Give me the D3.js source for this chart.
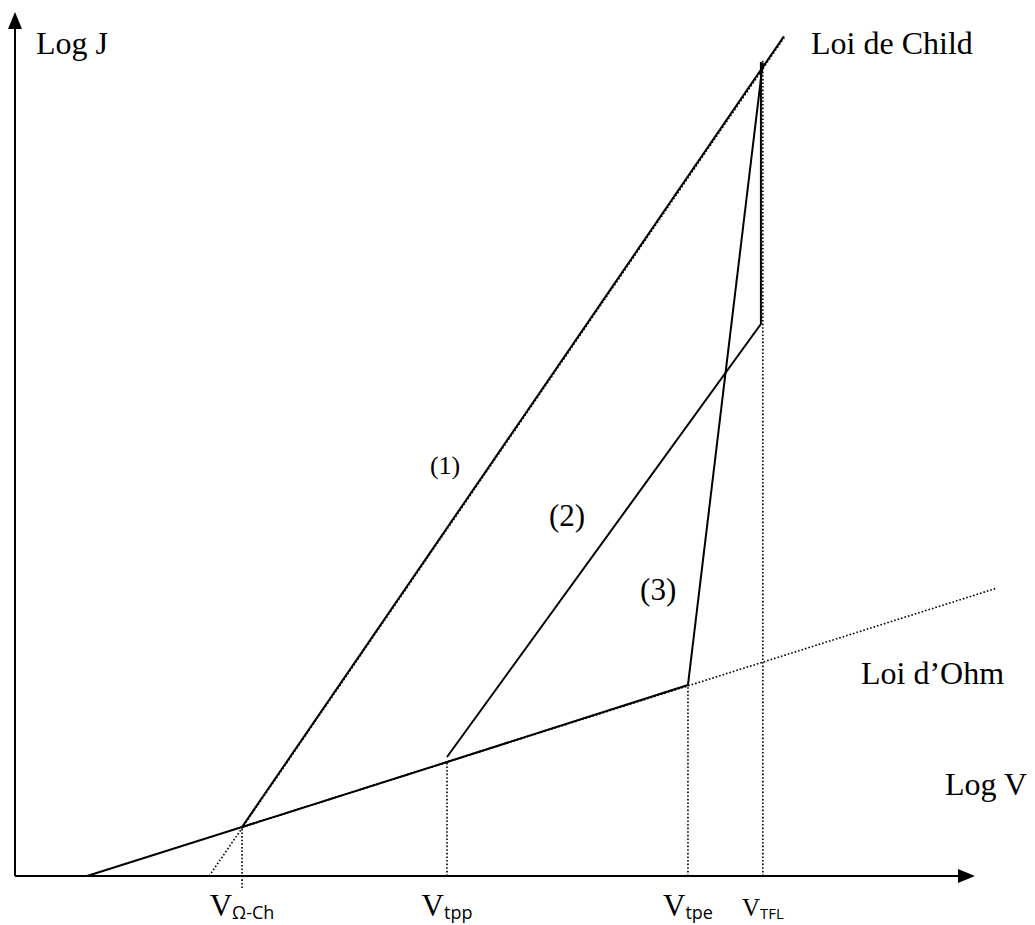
<!DOCTYPE html>
<html>
<head>
<meta charset="utf-8">
<script src="https://cdn.jsdelivr.net/npm/d3@7"></script>
<style>
  html, body { margin: 0; padding: 0; background: #fff; }
  svg { display: block; }
  .serif { font-family: "Liberation Serif", "Times New Roman", serif; fill: #000; }
  .sub { font-family: "Open Sans", "DejaVu Sans", sans-serif; fill: #000; }
</style>
</head>
<body>
<div id="chart"></div>
<script>
// abstract log-log units (0..10 on both axes)
const ohmSolid = [[0.75, 0], [2.365, 0.567], [4.5, 1.319], [7.01, 2.211]];
const ohmLine = [[2.365, 0.567], [10.23, 3.333]];           // dotted "Loi d'Ohm"
const childSolid = [[2.365, 0.567], [8.01, 9.72]];          // (1) "Loi de Child"
const childDotted = [[2.01, 0], [8.01, 9.72]];
const curve2 = [[4.5, 1.377], [7.77, 6.389], [7.77, 9.42]];
const curve3 = [[7.01, 2.211], [7.79, 9.41]];

// voltage markers on the x axis: name, subscript, x, top of dotted guide
const vNames = ["V", "V", "V", "V"];
const vSubs = ["Ω-Ch", "tpp", "tpe", "TFL"];
const vX = [2.365, 4.5, 7.01, 7.79];
const vTop = [0.567, 1.319, 2.211, 9.45];
const vBottom = [-0.14, 0, 0, 0];

const curveLabels = ["(1)", "(2)", "(3)"];
const curveLabelPos = [[4.48, 4.65], [5.75, 4.05], [6.7, 3.2]];

const margin = { left: 15, right: 60, top: 12, bottom: 49 };
const W = 1035, H = 925;

const x = d3.scaleLinear().domain([0, 10]).range([margin.left, W - margin.right]);
const y = d3.scaleLinear().domain([0, 10]).range([H - margin.bottom, margin.top]);

const svg = d3.select("#chart").append("svg")
    .attr("width", W).attr("height", H);

const line = d3.line().x(d => x(d[0])).y(d => y(d[1]));

// axes with arrow heads
const x0 = x(0), y0 = y(0), xEnd = x(10), yEnd = y(10);
svg.append("line").attr("x1", x0).attr("y1", y0).attr("x2", xEnd - 10).attr("y2", y0)
    .attr("stroke", "#000").attr("stroke-width", 2);
svg.append("path").attr("d", `M${xEnd},${y0} L${xEnd - 17},${y0 - 7} L${xEnd - 17},${y0 + 7} Z`).attr("fill", "#000");
svg.append("line").attr("x1", x0).attr("y1", y0).attr("x2", x0).attr("y2", yEnd + 10)
    .attr("stroke", "#000").attr("stroke-width", 2);
svg.append("path").attr("d", `M${x0},${yEnd} L${x0 - 7},${yEnd + 17} L${x0 + 7},${yEnd + 17} Z`).attr("fill", "#000");

const dotted = { stroke: "#000", "stroke-width": 1.6, "stroke-dasharray": "1.6 2" };
function drawPath(pts, style, dx = 0) {
    const p = svg.append("path").attr("d", line(pts)).attr("fill", "none");
    if (dx) p.attr("transform", `translate(${dx},0)`);
    Object.entries(style).forEach(([k, v]) => p.attr(k, v));
}

// guides
vX.forEach((v, i) => drawPath([[v, vBottom[i]], [v, vTop[i]]], dotted));
drawPath(ohmLine, dotted);
drawPath(childDotted, dotted, 1.2);
drawPath([ohmSolid[1], ohmSolid[3]], dotted, 0.8);

// solid curves
const solid = { stroke: "#000", "stroke-width": 2, "stroke-linejoin": "miter" };
drawPath(ohmSolid, solid);
drawPath(childSolid, solid);
drawPath(curve2, solid);
drawPath(curve3, solid);

// axis titles and law labels
svg.append("text").attr("class", "serif").attr("x", 36).attr("y", 54)
    .attr("font-size", 32).text("Log J");
svg.append("text").attr("class", "serif").attr("x", 945).attr("y", 795)
    .attr("font-size", 32).text("Log V");
svg.append("text").attr("class", "serif").attr("x", 811).attr("y", 54)
    .attr("font-size", 32).text("Loi de Child");
svg.append("text").attr("class", "serif").attr("x", 861).attr("y", 684)
    .attr("font-size", 32).text("Loi d\u2019Ohm");

curveLabels.forEach((t, i) => {
    svg.append("text").attr("class", "serif")
        .attr("x", x(curveLabelPos[i][0])).attr("y", y(curveLabelPos[i][1]))
        .attr("text-anchor", "middle")
        .attr("font-size", i === 0 ? 26 : 31).text(t);
});

// voltage labels under the axis
vX.forEach((v, i) => {
    const small = i === 3;
    const t = svg.append("text").attr("x", x(v)).attr("y", 916).attr("text-anchor", "middle");
    t.append("tspan").attr("class", "serif").attr("font-size", small ? 25 : 31).text(vNames[i]);
    t.append("tspan").attr("class", "sub").attr("font-size", small ? 15 : 18).attr("dy", 3).text(vSubs[i]);
});
</script>
</body>
</html>
